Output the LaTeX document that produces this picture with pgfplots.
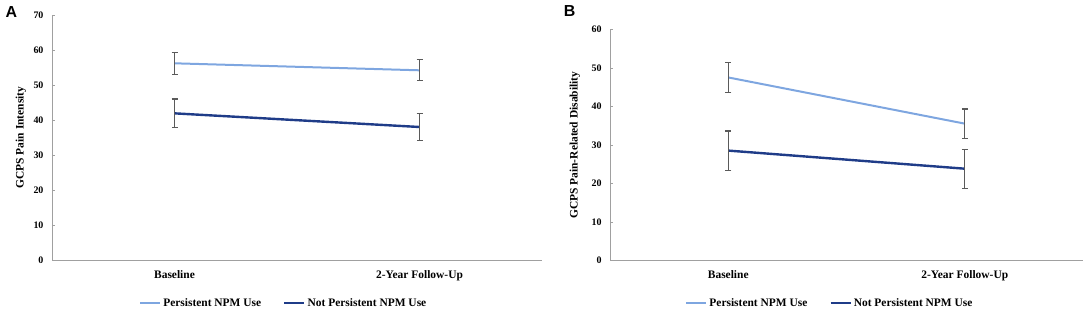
\documentclass[border=0pt]{standalone}
\usepackage{pgfplots}
\pgfplotsset{compat=1.18}
\usepackage{fontspec}
\setmainfont{Liberation Serif}
\newfontfamily\arialfont{Liberation Sans}
\definecolor{lightln}{RGB}{126,166,224}
\definecolor{darkln}{RGB}{31,60,136}
\definecolor{errc}{RGB}{90,90,90}
\definecolor{axc}{RGB}{160,160,160}

\pgfplotstableread{
x y e
0 56.2 3.1
1 54.2 3.0
}\Apers
\pgfplotstableread{
x y e
0 41.9 4.1
1 38.0 3.9
}\Anot
\pgfplotstableread{
x y e
0 47.6 3.8
1 35.6 3.8
}\Bpers
\pgfplotstableread{
x y e
0 28.6 5.1
1 23.9 5.1
}\Bnot

\pgfplotsset{
  myaxis/.style={
    scale only axis,
    axis x line=bottom, axis y line=left,
    axis line style={axc, line width=0.8bp, -},
    xmin=-0.5, xmax=1.5,
    xtick={0,1}, xticklabels={Baseline, 2-Year Follow-Up},
    x tick label style={font=\fontsize{11.5}{12}\selectfont\bfseries, anchor=base, yshift=-18bp, inner sep=0pt},
    y tick label style={font=\fontsize{10}{10}\selectfont\bfseries, xshift=-5bp},
    /pgf/number format/assume math mode=true,
    ymin=0, ytick distance=10,
    major tick length=2.5bp,
    x tick style={draw=none},
    y tick style={axc, line width=0.8bp},
    tick align=inside,
    ylabel style={font=\fontsize{11.5}{12}\selectfont\bfseries, at={(axis description cs:0,0.5)}, anchor=center},
    legend columns=2,
    legend style={draw=none, fill=none, font=\fontsize{11.5}{12}\selectfont\bfseries,
      anchor=center, inner sep=0pt,
      /tikz/every even column/.append style={column sep=20bp}},
    legend cell align=left,
    legend image code/.code={\draw[#1] (0bp,0bp) -- (20bp,0bp);},
    error bars/y dir=both, error bars/y explicit,
    error bars/error bar style={errc, line width=1.1bp},
    error bars/error mark options={errc, rotate=90, mark size=3bp, line width=1.1bp},
  },
  pers/.style={lightln, line width=2bp, mark=none},
  notp/.style={darkln, line width=2.4bp, mark=none},
}

\begin{document}
\begin{tikzpicture}
\path[use as bounding box] (0,0) rectangle (1084bp,309bp);

\begin{axis}[myaxis,
  at={(52bp,49bp)}, anchor=south west,
  width=490bp, height=245bp,
  ymax=70,
  ylabel={GCPS Pain Intensity},
  ylabel style={yshift=31bp},
  legend style={at={(axis description cs:0.473,0)}, yshift=-43bp},
]
\addplot[pers] table[x=x, y=y, y error=e] {\Apers};
\addlegendentry{Persistent NPM Use}
\addplot[notp] table[x=x, y=y, y error=e] {\Anot};
\addlegendentry{Not Persistent NPM Use}
\end{axis}

\begin{axis}[myaxis,
  at={(610bp,48.3bp)}, anchor=south west,
  width=473bp, height=231bp,
  ymax=60,
  ylabel={GCPS Pain-Related Disability},
  ylabel style={yshift=35bp},
  legend style={at={(axis description cs:0.465,0)}, yshift=-42.3bp},
]
\addplot[pers] table[x=x, y=y, y error=e] {\Bpers};
\addlegendentry{Persistent NPM Use}
\addplot[notp] table[x=x, y=y, y error=e] {\Bnot};
\addlegendentry{Not Persistent NPM Use}
\end{axis}

\node[font=\arialfont\bfseries\fontsize{16}{16}\selectfont, inner sep=0pt] at (11.5bp,297bp) {A};
\node[font=\arialfont\bfseries\fontsize{16}{16}\selectfont, inner sep=0pt] at (569.5bp,298bp) {B};
\end{tikzpicture}
\end{document}
